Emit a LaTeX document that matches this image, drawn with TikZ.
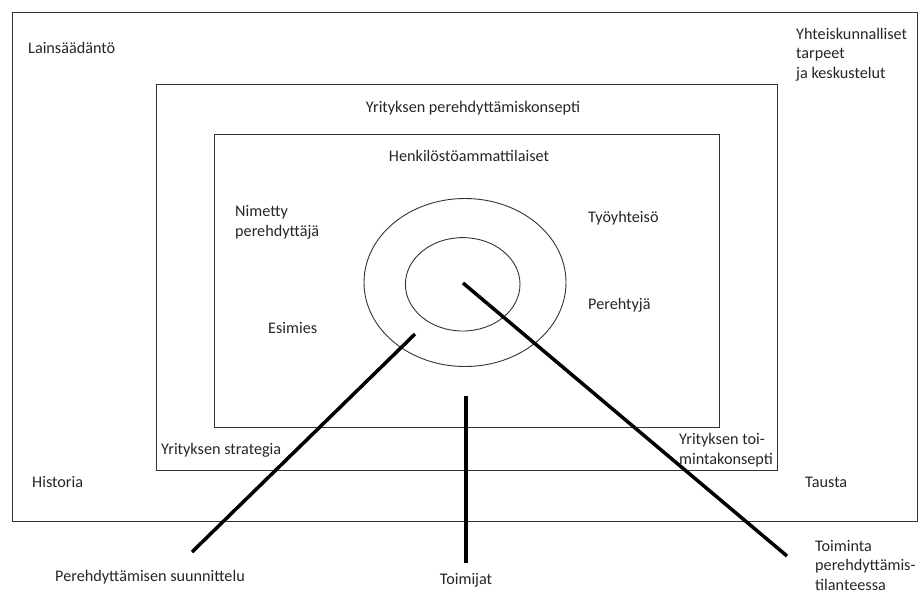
\documentclass[tikz,border=0pt]{standalone}
\usepackage{fontspec}
\setmainfont{Carlito}
\tikzset{
  txt/.style={font=\fontsize{16.2}{19.5}\selectfont,text=black!85,inner sep=0pt,anchor=base west,align=left},
  ctxt/.style={txt,anchor=base,align=center},
  frame/.style={draw=black!80,line width=1pt},
  ring/.style={draw=black!80,line width=0.9pt},
  spoke/.style={line width=3.5pt}
}
\begin{document}
\begin{tikzpicture}[x=1pt,y=-1pt]
\useasboundingbox (0,0) rectangle (918,590);
% frames
\draw[frame] (12,12) rectangle (917,521);
\draw[frame] (156,84.5) rectangle (777,470.5);
\draw[frame] (214.5,134) rectangle (719.5,427.5);
\draw[ring] (465,282.5) ellipse [x radius=101,y radius=84];
\draw[ring] (462.7,284.3) ellipse [x radius=57.3,y radius=46.7];
% texts (multi-line ones sit on their last line)
\node[txt] (law) at (28,53) {Lainsäädäntö};
\node[txt] (society) at (796,78) {Yhteiskunnalliset\\tarpeet\\ja keskustelut};
\node[ctxt] (concept) at (473,112) {Yrityksen perehdyttämiskonsepti};
\node[ctxt] (hr) at (469,161) {Henkilöstöammattilaiset};
\node[txt] (named) at (235,236) {Nimetty\\perehdyttäjä};
\node[txt] (community) at (588,222) {Työyhteisö};
\node[txt] (newcomer) at (588,309) {Perehtyjä};
\node[txt] (boss) at (268,333) {Esimies};
\node[txt] (strategy) at (161,454) {Yrityksen strategia};
\node[txt] (opconcept) at (679,464) {Yrityksen toi-\\mintakonsepti};
\node[txt] (history) at (32,487) {Historia};
\node[txt] (background) at (805,487) {Tausta};
\node[txt] (planning) at (55,581) {Perehdyttämisen suunnittelu};
\node[ctxt] (actors) at (466,584) {Toimijat};
\node[txt] (action) at (815,590) {Toiminta\\perehdyttämis-\\tilanteessa};
% spokes
\coordinate (planA) at (415,334);
\coordinate (planB) at (192,552);
\coordinate (actA) at (466,396);
\coordinate (actB) at (466,563);
\coordinate (hub) at (463,283);
\coordinate (sitB) at (787,556);
\draw[spoke] (planA) -- (planB);
\draw[spoke] (actA) -- (actB);
\draw[spoke] (hub) -- (sitB);
\end{tikzpicture}
\end{document}
